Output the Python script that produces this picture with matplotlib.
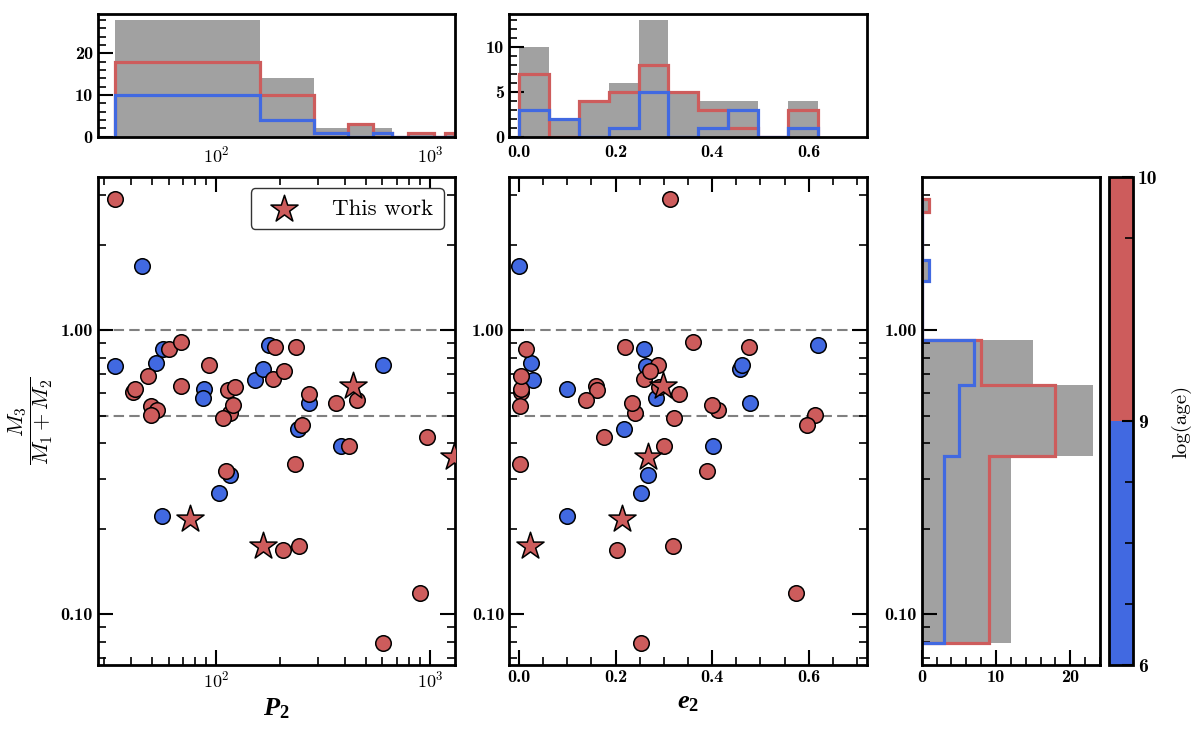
import numpy as np
import matplotlib
matplotlib.use("Agg")
import matplotlib.pyplot as plt
from matplotlib.ticker import (AutoMinorLocator, MultipleLocator, FuncFormatter,
                               NullFormatter)
from matplotlib.colors import ListedColormap, BoundaryNorm
from matplotlib.cm import ScalarMappable
from matplotlib.mathtext import MathTextParser
from matplotlib.font_manager import FontProperties

# ---------------- data ----------------
# outer period P2 [d], outer eccentricity e2, mass ratio M3/(M1+M2),
# age group ('old' = log(age) >= 9, 'young' = log(age) < 9), this-work flag
P2 = [45.3, 33.7, 52.2, 56.8, 87.9, 86.6, 152.0, 165.3, 177.5, 272.0, 241.0, 601.0,
      383.0, 116.2, 103.3, 55.7,
      33.7, 41.1, 41.8, 48.3, 49.5, 52.8, 49.5, 60.6, 68.6, 68.6, 93.0, 113.4,
      122.7, 116.2, 120.5, 107.5, 184.0, 208.0, 188.7, 236.7, 272.0, 253.0, 364.0,
      454.0, 966.0, 420.0, 234.0, 111.4, 206.0, 244.0, 900.0, 601.0,
      75.6, 166.3, 438.0, 1300.0]
e2 = [0.000, 0.264, 0.026, 0.258, 0.100, 0.284, 0.030, 0.458, 0.619, 0.479, 0.217, 0.462,
      0.401, 0.268, 0.252, 0.100,
      0.312, 0.004, 0.005, 0.0035, 0.0015, 0.412, 0.613, 0.015, 0.360, 0.160, 0.288, 0.162,
      0.290, 0.241, 0.399, 0.322, 0.258, 0.272, 0.220, 0.477, 0.332, 0.597, 0.235,
      0.139, 0.177, 0.301, 0.0015, 0.389, 0.2035, 0.320, 0.574, 0.252,
      0.214, 0.0236, 0.298, 0.267]
q = [1.684, 0.747, 0.767, 0.857, 0.620, 0.578, 0.670, 0.727, 0.888, 0.556, 0.448, 0.751,
     0.392, 0.310, 0.266, 0.221,
     2.89, 0.606, 0.619, 0.690, 0.540, 0.523, 0.502, 0.857, 0.907, 0.635, 0.755, 0.614,
     0.632, 0.511, 0.545, 0.489, 0.672, 0.717, 0.874, 0.869, 0.595, 0.464, 0.555,
     0.567, 0.421, 0.390, 0.338, 0.320, 0.168, 0.1735, 0.119, 0.0793,
     0.216, 0.1735, 0.635, 0.358]
age_group = ['young'] * 16 + ['old'] * 32 + ['old'] * 4
this_work = [False] * 48 + [True] * 4

age_bounds = [6, 9, 10]
age_ticks = [6, 9, 10]
age_minor_ticks = [6.75, 7.5, 8.25, 9.75]

RED = 'indianred'
BLUE = 'royalblue'

P2 = np.array(P2); e2 = np.array(e2); q = np.array(q)
old = np.array([g == 'old' for g in age_group])
tw = np.array(this_work)
young = ~old

# ---------------- style ----------------
plt.rcParams['font.family'] = ['cmr10', 'DejaVu Serif']
plt.rcParams['mathtext.fontset'] = 'cm'
plt.rcParams['axes.formatter.use_mathtext'] = False
plt.rcParams['axes.linewidth'] = 2.0
# fonts for the 'custom' math font family (used only by the bold-italic axis labels)
plt.rcParams['mathtext.rm'] = 'Liberation Serif'
plt.rcParams['mathtext.it'] = 'Liberation Serif:italic'
plt.rcParams['mathtext.bf'] = 'Liberation Serif:bold'
try:
    plt.rcParams['mathtext.bfit'] = 'Liberation Serif:italic:bold'
except KeyError:
    pass

TICKFONT = 'cmb10'
TLS = 13


def _ok(s, mf=None):
    try:
        prop = FontProperties(math_fontfamily=mf) if mf else None
        MathTextParser('path').parse(s, prop=prop)
        return True
    except Exception:
        return False


LABMF = 'custom'
if _ok(r'$\mathbfit{P}_{\mathbf{2}}$', LABMF):
    xlab_P, xlab_e = r'$\mathbfit{P}_{\mathbf{2}}$', r'$\mathbfit{e}_{\mathbf{2}}$'
elif _ok(r'$\boldsymbol{P_2}$', 'stix'):
    LABMF = 'stix'
    xlab_P, xlab_e = r'$\boldsymbol{P_2}$', r'$\boldsymbol{e_2}$'
else:
    LABMF = 'cm'
    xlab_P, xlab_e = r'$\mathbf{P_2}$', r'$\mathbf{e_2}$'
ylab = r'$\dfrac{M_3}{M_1+M_2}$' if _ok(r'$\dfrac{M_3}{M_1+M_2}$') else r'$\frac{M_3}{M_1+M_2}$'

logfmt = FuncFormatter(lambda v, p: r'$\mathbf{10^{%d}}$' % int(round(np.log10(v))))
qfmt = FuncFormatter(lambda v, p: '%.2f' % v)
efmt = FuncFormatter(lambda v, p: '%.1f' % v)
ifmt = FuncFormatter(lambda v, p: '%d' % round(v))

XLIM_P = (28, 1310)
XLIM_E = (-0.02, 0.72)
YLIM_Q = (0.066, 3.47)

fig = plt.figure(figsize=(12, 7.29), dpi=100)
ax_s1 = fig.add_axes([0.0814, 0.0874, 0.2978, 0.6702])
ax_s2 = fig.add_axes([0.4244, 0.0874, 0.2978, 0.6702])
ax_hq = fig.add_axes([0.7681, 0.0874, 0.1486, 0.6702])
ax_cb = fig.add_axes([0.9244, 0.0874, 0.0200, 0.6702])
ax_hp = fig.add_axes([0.0814, 0.8125, 0.2978, 0.1683])
ax_he = fig.add_axes([0.4244, 0.8125, 0.2978, 0.1683])


def style_ticks(ax, top=True, right=True, left=True, bottom=True):
    ax.tick_params(which='both', direction='in', top=top, right=right,
                   left=left, bottom=bottom, labelsize=TLS,
                   labelfontfamily=TICKFONT)
    ax.tick_params(which='major', length=11, width=1.5)
    ax.tick_params(which='minor', length=6, width=1.2)


# ---------------- scatter panels ----------------
circ = ~tw
for ax, xv in [(ax_s1, P2), (ax_s2, e2)]:
    ax.axhline(1.0, color='gray', ls=(0, (5, 2.5)), lw=1.5, zorder=1)
    ax.axhline(0.5, color='gray', ls=(0, (5, 2.5)), lw=1.5, zorder=1)
    ax.scatter(xv[circ & young], q[circ & young], s=125, c=BLUE, edgecolors='k',
               linewidths=1.1, zorder=3)
    ax.scatter(xv[circ & old], q[circ & old], s=125, c=RED, edgecolors='k',
               linewidths=1.1, zorder=3)
    ax.scatter(xv[tw], q[tw], marker='*', s=420, c=RED, edgecolors='k',
               linewidths=1.1, zorder=4, label='This work')
    ax.set_yscale('log')
    ax.set_ylim(*YLIM_Q)
    ax.yaxis.set_major_formatter(qfmt)
    ax.yaxis.set_minor_formatter(NullFormatter())
    style_ticks(ax)

ax_s1.set_xscale('log')
ax_s1.set_xlim(*XLIM_P)
ax_s1.xaxis.set_major_formatter(logfmt)
ax_s1.xaxis.set_minor_formatter(NullFormatter())
ax_s1.set_xlabel(xlab_P, fontsize=19, math_fontfamily=LABMF)
ax_s1.set_ylabel(ylab, fontsize=16)

ax_s2.set_xlim(*XLIM_E)
ax_s2.xaxis.set_major_locator(MultipleLocator(0.2))
ax_s2.xaxis.set_minor_locator(AutoMinorLocator(4))
ax_s2.xaxis.set_major_formatter(efmt)
ax_s2.set_xlabel(xlab_e, fontsize=19, math_fontfamily=LABMF)

leg = ax_s1.legend(loc='upper right', fontsize=16.5, frameon=True, fancybox=True,
                   framealpha=1, edgecolor='0.2', scatterpoints=1,
                   handletextpad=1.1, borderpad=0.45)
leg.get_frame().set_linewidth(1.0)

# ---------------- histograms ----------------
HIST_KW = dict(color='gray', alpha=0.74)
STEP_LW = 2.3

bins_P = np.histogram_bin_edges(P2, 10)
ax_hp.hist(P2, bins=bins_P, **HIST_KW)
ax_hp.hist(P2[old], bins=bins_P, histtype='step', color=RED, lw=STEP_LW)
ax_hp.hist(P2[young], bins=bins_P, histtype='step', color=BLUE, lw=STEP_LW)
ax_hp.set_xscale('log')
ax_hp.set_xlim(*XLIM_P)
ax_hp.xaxis.set_major_formatter(logfmt)
ax_hp.xaxis.set_minor_formatter(NullFormatter())
ax_hp.yaxis.set_major_locator(MultipleLocator(10))
ax_hp.yaxis.set_minor_locator(AutoMinorLocator(5))
ax_hp.yaxis.set_major_formatter(ifmt)
style_ticks(ax_hp, top=False, right=False)
ax_hp.tick_params(axis='x', which='both', length=0, pad=6)

bins_e = np.histogram_bin_edges(e2, 10)
ax_he.hist(e2, bins=bins_e, **HIST_KW)
ax_he.hist(e2[old], bins=bins_e, histtype='step', color=RED, lw=STEP_LW)
ax_he.hist(e2[young], bins=bins_e, histtype='step', color=BLUE, lw=STEP_LW)
ax_he.set_xlim(*XLIM_E)
ax_he.xaxis.set_major_locator(MultipleLocator(0.2))
ax_he.xaxis.set_major_formatter(efmt)
ax_he.yaxis.set_major_locator(MultipleLocator(5))
ax_he.yaxis.set_minor_locator(AutoMinorLocator(5))
ax_he.yaxis.set_major_formatter(ifmt)
style_ticks(ax_he, top=False, right=False)
ax_he.tick_params(axis='x', which='both', length=0, pad=6)

bins_q = np.histogram_bin_edges(q, 10)
ax_hq.hist(q, bins=bins_q, orientation='horizontal', **HIST_KW)
ax_hq.hist(q[old], bins=bins_q, orientation='horizontal', histtype='step',
           color=RED, lw=STEP_LW)
ax_hq.hist(q[young], bins=bins_q, orientation='horizontal', histtype='step',
           color=BLUE, lw=STEP_LW)
ax_hq.set_yscale('log')
ax_hq.set_ylim(*YLIM_Q)
ax_hq.yaxis.set_major_formatter(qfmt)
ax_hq.yaxis.set_minor_formatter(NullFormatter())
ax_hq.xaxis.set_major_locator(MultipleLocator(10))
ax_hq.xaxis.set_minor_locator(AutoMinorLocator(5))
ax_hq.xaxis.set_major_formatter(ifmt)
ax_hq.set_xlim(0, 24.0)
style_ticks(ax_hq, top=False, right=False)

# ---------------- colorbar ----------------
cmap = ListedColormap([BLUE, RED])
norm = BoundaryNorm(age_bounds, cmap.N)
cb = fig.colorbar(ScalarMappable(norm=norm, cmap=cmap), cax=ax_cb,
                  spacing='uniform', ticks=age_ticks)
cb.set_ticks(age_minor_ticks, minor=True)
cb.ax.yaxis.set_major_formatter(ifmt)
cb.ax.tick_params(which='both', direction='in', right=True, left=False,
                  labelsize=14, labelfontfamily=TICKFONT)
cb.ax.tick_params(which='major', length=8, width=1.5)
cb.ax.tick_params(which='minor', length=6, width=1.2)
cb.outline.set_linewidth(2.0)
cb.set_label('log(age)', fontsize=15, labelpad=10)

fig.savefig('out.png', dpi=100)
